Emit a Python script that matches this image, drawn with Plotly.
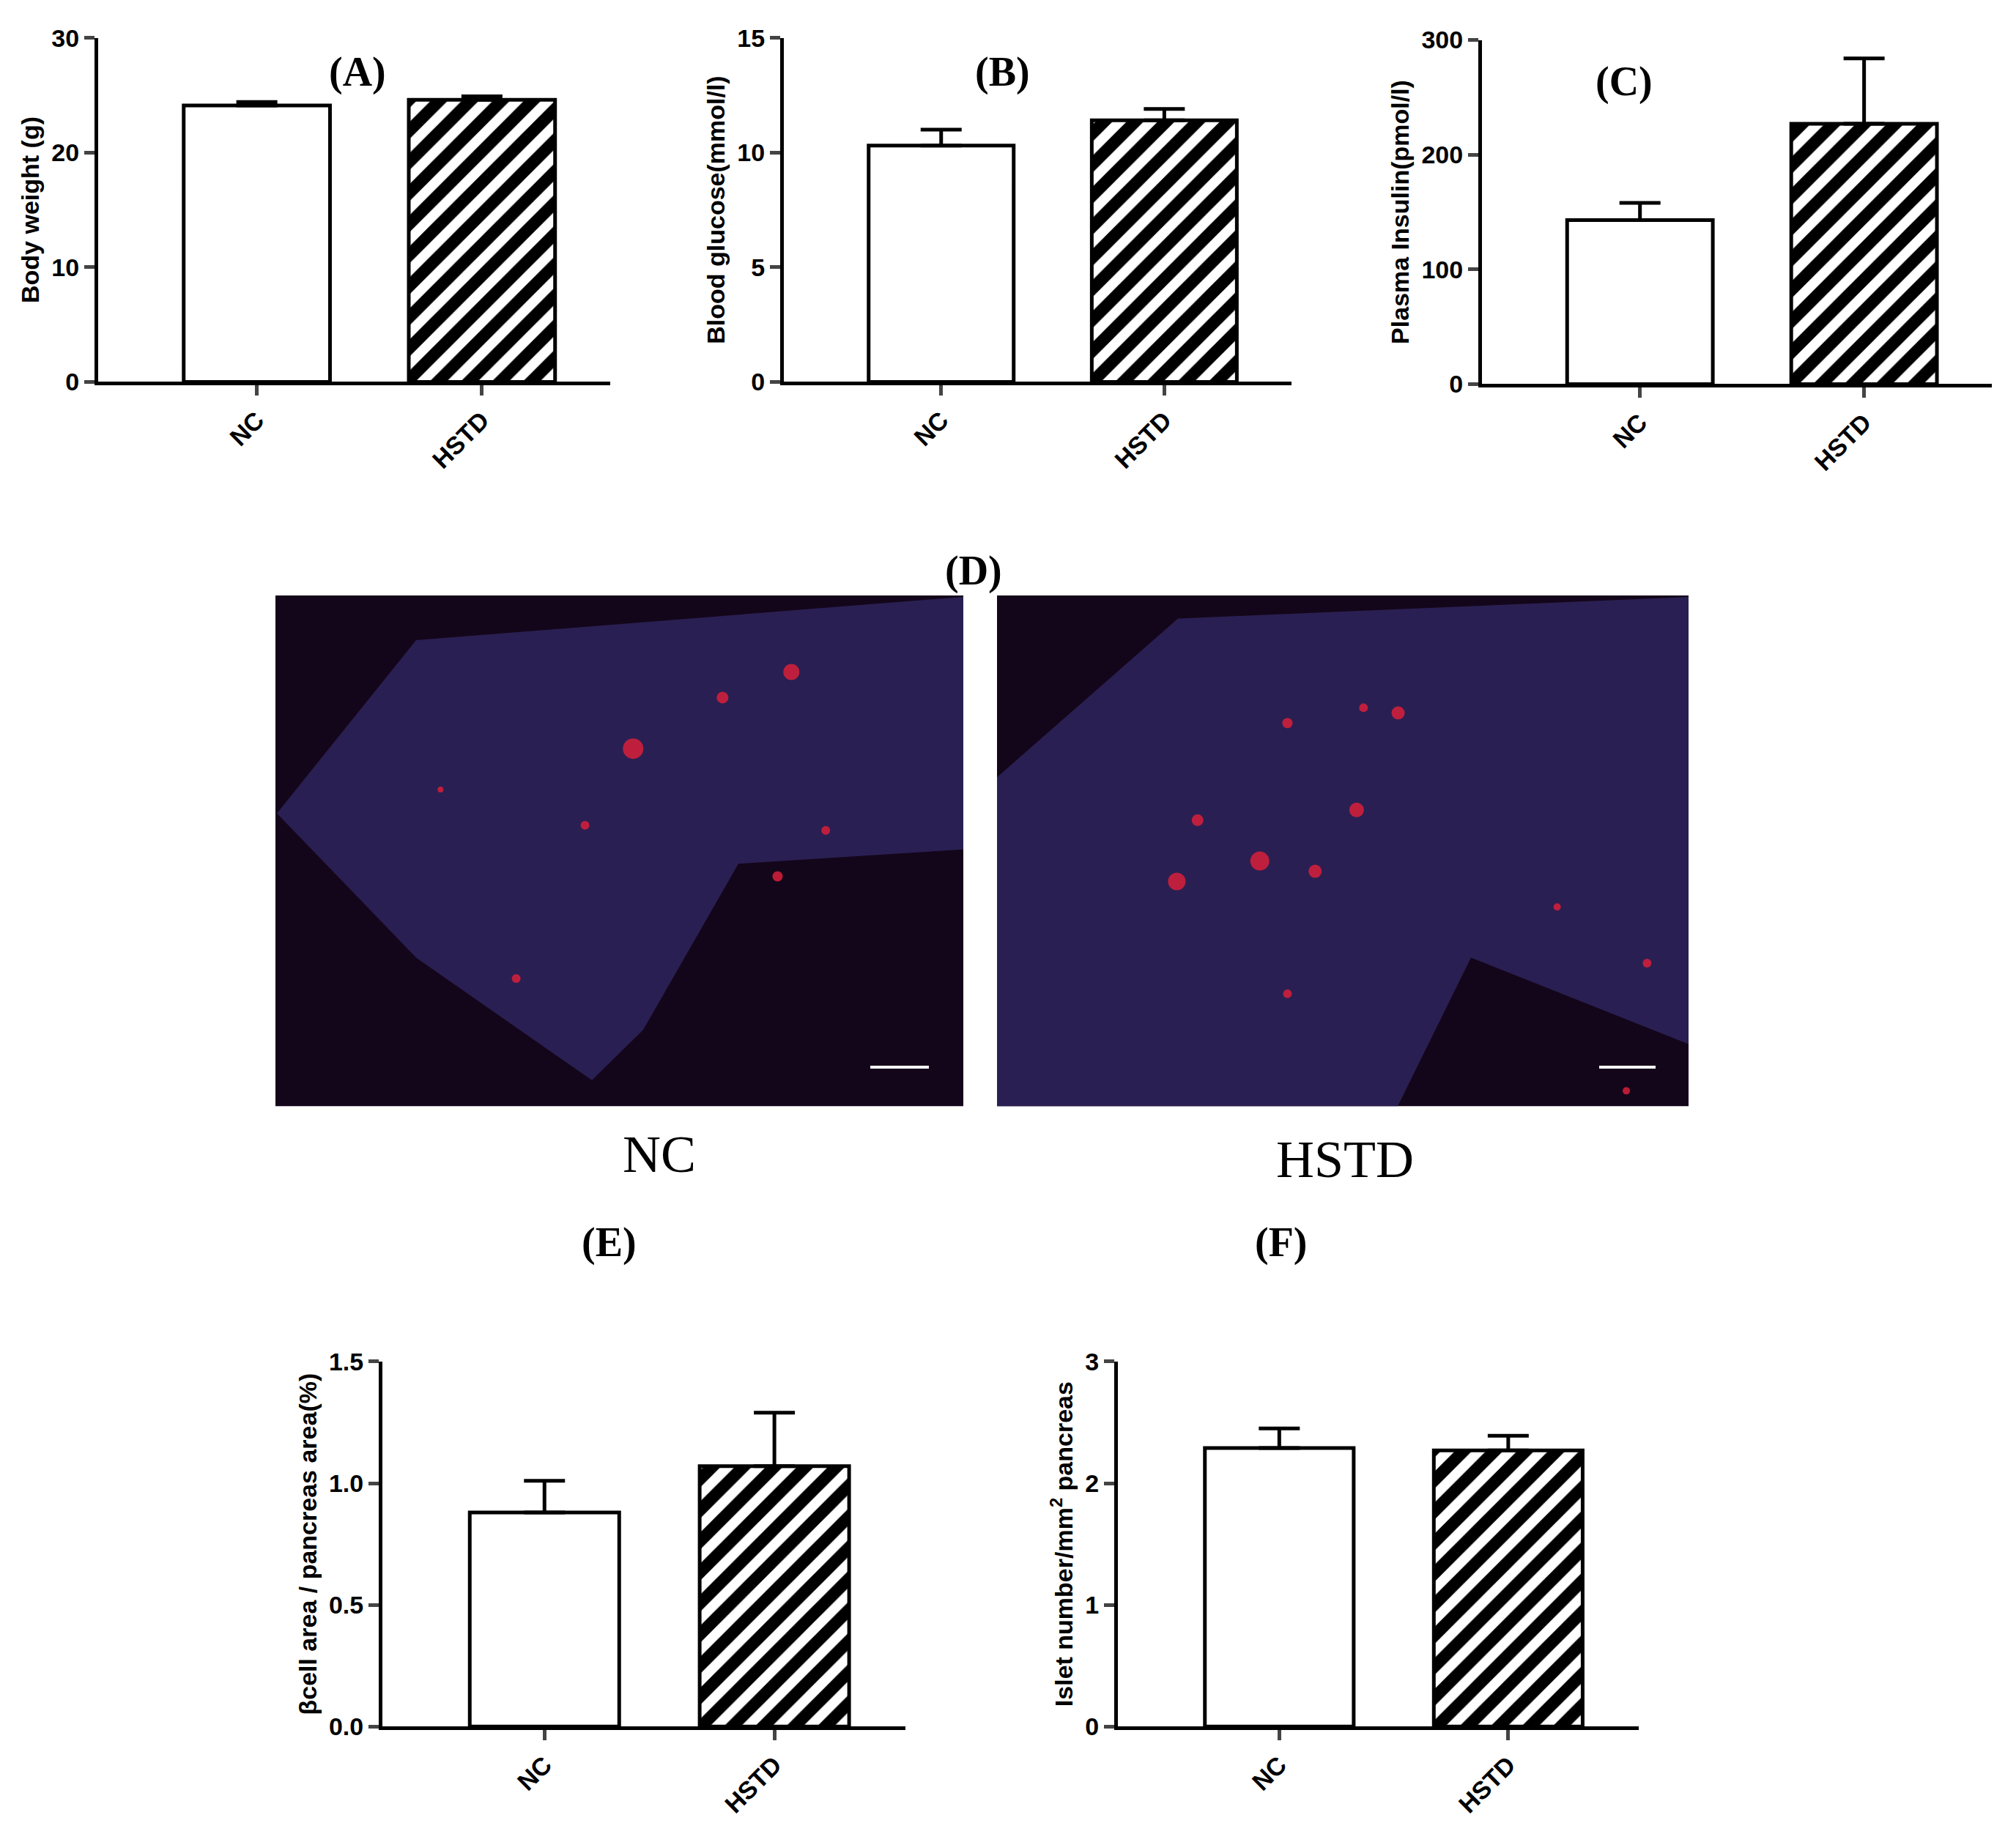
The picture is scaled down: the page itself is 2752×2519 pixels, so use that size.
import plotly.graph_objects as go

W, H = 2752, 2519
cats = ["NC", "HSTD"]
bw_vals = [24.1, 24.6]; bw_err = [0.3, 0.3]
bg_vals = [10.3, 11.4]; bg_err = [0.7, 0.5]
ins_vals = [143, 227]; ins_err = [15, 57]
beta_vals = [0.88, 1.07]; beta_err = [0.13, 0.22]
islet_vals = [2.29, 2.27]; islet_err = [0.16, 0.12]
bw_ticks = ["0", "10", "20", "30"]
bg_ticks = ["0", "5", "10", "15"]
ins_ticks = ["0", "100", "200", "300"]
beta_ticks = ["0.0", "0.5", "1.0", "1.5"]
islet_ticks = ["0", "1", "2", "3"]

nc_spot_x = [0.75, 0.65, 0.52, 0.45, 0.80, 0.73, 0.35, 0.24]
nc_spot_y = [0.85, 0.80, 0.70, 0.55, 0.54, 0.45, 0.25, 0.62]
nc_spot_s = [22, 16, 28, 12, 12, 14, 12, 8]
hs_spot_x = [0.58, 0.42, 0.52, 0.29, 0.38, 0.46, 0.26, 0.53, 0.81, 0.94, 0.42, 0.91]
hs_spot_y = [0.77, 0.75, 0.58, 0.56, 0.48, 0.46, 0.44, 0.78, 0.39, 0.28, 0.22, 0.03]
hs_spot_s = [18, 14, 20, 16, 26, 18, 24, 12, 10, 12, 12, 10]

fig = go.Figure()

def px(x): return x / W
def py(y): return 1 - y / H

panels = [
    (bw_vals, bw_err, bw_ticks, "Body weight (g)", [0, 30], (126, 825, 25, 502)),
    (bg_vals, bg_err, bg_ticks, "Blood glucose(mmol/l)", [0, 15], (1062, 1755, 25, 502)),
    (ins_vals, ins_err, ins_ticks, "Plasma Insulin(pmol/l)", [0, 300], (2015, 2711, 28, 505)),
    (beta_vals, beta_err, beta_ticks, "βcell area / pancreas area(%)", [0, 1.5], (514, 1228, 1860, 2366)),
    (islet_vals, islet_err, islet_ticks, "Islet number/mm<sup>2</sup> pancreas", [0, 3], (1518, 2229, 1860, 2366)),
]
font = dict(family="Arial", size=34, color="black")
for i, (vals, err, tl, title, yr, (x0, x1, y0, y1)) in enumerate(panels):
    n = "" if i == 0 else str(i + 1)
    fig.add_trace(go.Bar(x=[0, 1], y=vals, width=0.65, xaxis="x" + n, yaxis="y" + n,
                         marker=dict(color="white", line=dict(color="black", width=5),
                                     pattern=dict(shape=["", "/"], fgcolor="black", bgcolor="white",
                                                  fgopacity=1, fillmode="replace",
                                                  size=30, solidity=0.55)),
                         error_y=dict(type="data", array=err, arrayminus=[0, 0], symmetric=False,
                                      color="black", thickness=5, width=28),
                         showlegend=False))
    fig.layout["xaxis" + n] = dict(domain=[px(x0), px(x1)], anchor="y" + n, range=[-0.705, 1.57],
                                   tickvals=[0, 1], ticktext=["<b>NC</b>", "<b>HSTD</b>"], tickangle=-45,
                                   showline=True, linecolor="black", linewidth=5, ticks="outside",
                                   ticklen=14, tickwidth=5, tickfont=font, showgrid=False, zeroline=False)
    fig.layout["yaxis" + n] = dict(domain=[py(y1), py(y0)], anchor="x" + n, range=yr,
                                   tickvals=[float(t) for t in tl], ticktext=["<b>%s</b>" % t for t in tl],
                                   showline=True, linecolor="black", linewidth=5, ticks="outside",
                                   ticklen=14, tickwidth=5, tickfont=font, showgrid=False, zeroline=False,
                                   title=dict(text="<b>" + title + "</b>", font=font, standoff=8))

imgs = [((368, 1307), nc_spot_x, nc_spot_y, nc_spot_s, 6), ((1353, 2297), hs_spot_x, hs_spot_y, hs_spot_s, 7)]
for (x0, x1), sx, sy, ss, k in imgs:
    fig.add_shape(type="rect", xref="paper", yref="paper", x0=px(x0), x1=px(x1), y0=py(1506), y1=py(798),
                  fillcolor="#14061a", line_width=0, layer="below")
    fig.add_trace(go.Scatter(x=sx, y=sy, mode="markers", xaxis="x" + str(k), yaxis="y" + str(k),
                             marker=dict(color="#d8203a", size=ss, opacity=0.85, line_width=0),
                             showlegend=False))
    fig.layout["xaxis" + str(k)] = dict(domain=[px(x0), px(x1)], anchor="y" + str(k), range=[0, 1], visible=False)
    fig.layout["yaxis" + str(k)] = dict(domain=[py(1506), py(798)], anchor="x" + str(k), range=[0, 1], visible=False)
fig.add_shape(type="path", xref="paper", yref="paper",
              path=f"M {px(560)},{py(860)} L {px(1307)},{py(800)} L {px(1307)},{py(1150)} L {px(1000)},{py(1170)} L {px(870)},{py(1400)} L {px(800)},{py(1470)} L {px(560)},{py(1300)} L {px(370)},{py(1100)} Z",
              fillcolor="#2a1f52", line_width=0, layer="below")
fig.add_shape(type="path", xref="paper", yref="paper",
              path=f"M {px(1353)},{py(1506)} L {px(1353)},{py(1050)} L {px(1600)},{py(830)} L {px(2297)},{py(800)} L {px(2297)},{py(1420)} L {px(2000)},{py(1300)} L {px(1900)},{py(1506)} Z",
              fillcolor="#2a1f52", line_width=0, layer="below")
for xa, xb in [(1180, 1260), (2175, 2252)]:
    fig.add_shape(type="line", xref="paper", yref="paper", x0=px(xa), x1=px(xb), y0=py(1452), y1=py(1452),
                  line=dict(color="white", width=4))

ann = [("<b>(A)</b>", 439, 39, 56), ("<b>(B)</b>", 1360, 39, 56), ("<b>(C)</b>", 2250, 52, 56), ("<b>(D)</b>", 1321, 730, 56),
       ("<b>(E)</b>", 784, 1729, 56), ("<b>(F)</b>", 1741, 1729, 56), ("NC", 840, 1573, 72), ("HSTD", 1828, 1580, 72)]
for t, x, y, s in ann:
    fig.add_annotation(text=t, x=px(x), y=py(y), xref="paper", yref="paper", showarrow=False,
                       font=dict(family="Liberation Serif", size=s, color="black"))

fig.update_layout(width=W, height=H, plot_bgcolor="white", paper_bgcolor="white",
                  margin=dict(l=0, r=0, t=0, b=0))
fig.write_html("out.html")
